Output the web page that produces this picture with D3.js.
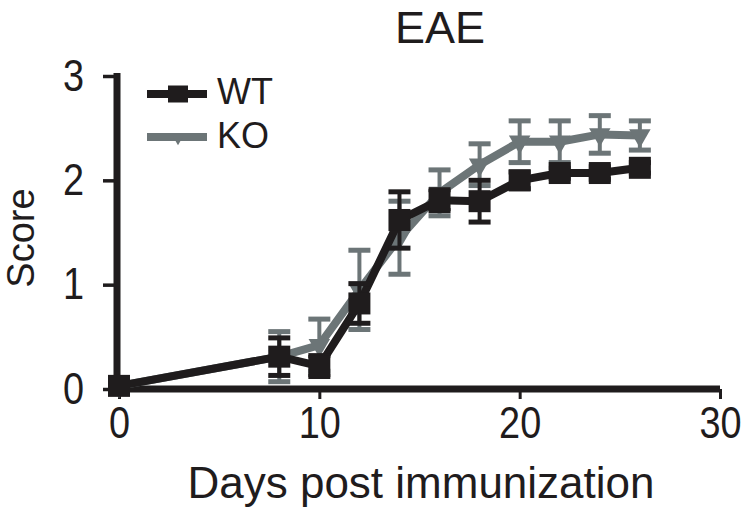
<!DOCTYPE html>
<html><head><meta charset="utf-8">
<script src="https://cdn.jsdelivr.net/npm/d3@7"></script>
<style>
html,body{margin:0;padding:0;background:#fff;}
svg{display:block;}
</style></head>
<body>
<svg id="chart" width="750" height="516"></svg>
<script>
const days   = [0, 8, 10, 12, 14, 16, 18, 20, 22, 24, 26];
const wtMean = [0.03, 0.31, 0.22, 0.82, 1.62, 1.81, 1.80, 2.00, 2.07, 2.07, 2.12];
const wtErr  = [0.03, 0.18, 0.10, 0.19, 0.27, 0.10, 0.20, 0.08, 0.05, 0.06, 0.05];
const koMean = [0.03, 0.31, 0.42, 0.95, 1.45, 1.88, 2.15, 2.37, 2.37, 2.44, 2.43];
const koErr  = [0.03, 0.24, 0.25, 0.38, 0.35, 0.22, 0.20, 0.20, 0.20, 0.18, 0.14];
const xTicks = [0, 10, 20, 30];
const yTicks = [0, 1, 2, 3];
const seriesNames = ["WT", "KO"];
const title = "EAE", xLabel = "Days post immunization", yLabel = "Score";

const BLACK = "#1f1c1d", GRAY = "#6c7577";
const svg = d3.select("#chart");
const x = d3.scaleLinear().domain([0, 30]).range([119, 720]);
const y = d3.scaleLinear().domain([0, 3]).range([389, 76]);
const FONT = "'Liberation Sans', Arial, sans-serif";

function narrow(sel, f) {
  sel.each(function() {
    const L = this.getComputedTextLength();
    d3.select(this).attr("textLength", L * f).attr("lengthAdjust", "spacingAndGlyphs");
  });
}

// axes
const xAxis = svg.append("g").attr("transform", "translate(0,389)")
  .call(d3.axisBottom(x).tickValues(xTicks).tickSize(10).tickSizeOuter(0).tickPadding(8).tickFormat(d3.format("d")));
xAxis.select(".domain").attr("stroke", BLACK).attr("stroke-width", 7).attr("d", "M" + (x(0) - 4) + ",0H" + x(30));
xAxis.selectAll(".tick line").attr("stroke", BLACK).attr("stroke-width", 3);
xAxis.selectAll(".tick text").attr("fill", BLACK).style("font-family", FONT).style("font-size", "44px")
  .call(narrow, 0.86);

const yAxis = svg.append("g").attr("transform", "translate(117,0)")
  .call(d3.axisLeft(y).tickValues(yTicks).tickSize(14).tickSizeOuter(0).tickPadding(19).tickFormat(d3.format("d")));
yAxis.select(".domain").attr("stroke", BLACK).attr("stroke-width", 7).attr("d", "M0," + (y(3) - 3) + "V" + (y(0) + 3));
yAxis.selectAll(".tick line").attr("stroke", BLACK).attr("stroke-width", 3.5);
yAxis.selectAll(".tick text").attr("fill", BLACK).style("font-family", FONT).style("font-size", "44px")
  .call(narrow, 0.86);

// series
const series = [
  {name: "KO", mean: koMean, err: koErr, color: GRAY, shape: "tri"},
  {name: "WT", mean: wtMean, err: wtErr, color: BLACK, shape: "sq"}
];
const line = d3.line().x(d => x(d.day)).y(d => y(d.v));
const tri = d3.symbol().type(d3.symbolTriangle).size(200);

function drawMarker(g, shape, cx, cy, color) {
  if (shape === "sq") {
    g.append("rect").attr("x", cx - 11).attr("y", cy - 11).attr("width", 22).attr("height", 22).attr("fill", color);
  } else {
    g.append("path").attr("d", tri()).attr("transform", `translate(${cx},${cy}) rotate(180)`).attr("fill", color);
  }
}

series.forEach(s => {
  const pts = days.map((d, i) => ({day: d, v: s.mean[i], e: s.err[i]}));
  const g = svg.append("g");
  g.append("path").datum(pts).attr("d", line).attr("fill", "none")
    .attr("stroke", s.color).attr("stroke-width", 8).attr("stroke-linejoin", "round");
  pts.forEach(p => {
    const cx = x(p.day);
    g.append("line").attr("x1", cx).attr("x2", cx).attr("y1", y(p.v - p.e)).attr("y2", y(p.v + p.e))
      .attr("stroke", s.color).attr("stroke-width", 4);
    [p.v - p.e, p.v + p.e].forEach(v => {
      g.append("line").attr("x1", cx - 11).attr("x2", cx + 11).attr("y1", y(v)).attr("y2", y(v))
        .attr("stroke", s.color).attr("stroke-width", 5);
    });
  });
  pts.forEach(p => drawMarker(g, s.shape, x(p.day), y(p.v), s.color));
});

// legend
const legY = [94, 137];
const legend = [{name: seriesNames[0], color: BLACK, shape: "sq"}, {name: seriesNames[1], color: GRAY, shape: "tri"}];
legend.forEach((l, i) => {
  const g = svg.append("g");
  g.append("line").attr("x1", 147).attr("x2", 207).attr("y1", legY[i]).attr("y2", legY[i])
    .attr("stroke", l.color).attr("stroke-width", 8);
  if (l.shape === "sq") {
    g.append("rect").attr("x", 168).attr("y", legY[i] - 8.5).attr("width", 20).attr("height", 17).attr("fill", l.color);
  } else {
    g.append("path").attr("d", d3.symbol().type(d3.symbolTriangle).size(70)())
      .attr("transform", `translate(178,${legY[i] + 1}) rotate(180)`).attr("fill", l.color);
  }
  g.append("text").attr("x", 217).attr("y", legY[i] + 10 + i * 1).text(l.name)
    .attr("fill", BLACK).style("font-family", FONT).style("font-size", "36px");
});

// titles
svg.append("text").attr("x", 440).attr("y", 43).attr("text-anchor", "middle").text(title)
  .attr("fill", BLACK).style("font-family", FONT).style("font-size", "45px");
svg.append("text").attr("x", 421).attr("y", 498).attr("text-anchor", "middle").text(xLabel)
  .attr("fill", BLACK).style("font-family", FONT).style("font-size", "44px");
svg.append("text").attr("transform", "translate(34,238) rotate(-90)").attr("text-anchor", "middle").text(yLabel)
  .attr("fill", BLACK).style("font-family", FONT).style("font-size", "38px");
</script>
</body></html>
